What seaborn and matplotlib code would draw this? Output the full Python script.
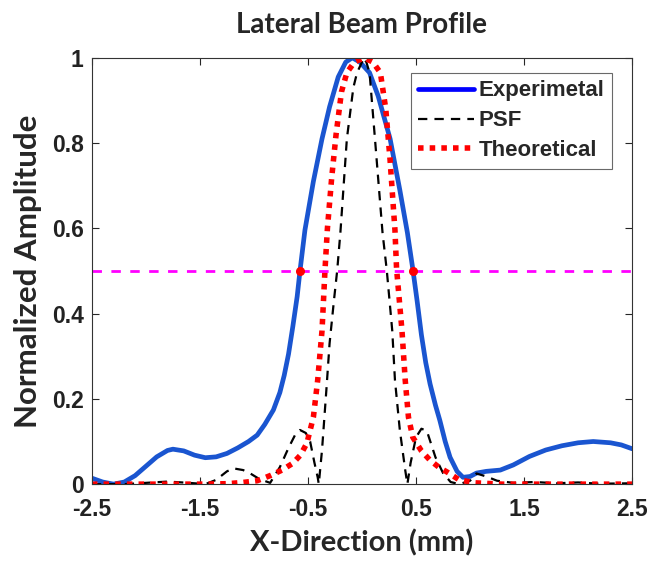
"""Lateral beam profile: experimental vs PSF vs theoretical."""

import matplotlib
matplotlib.use("Agg")
import matplotlib.pyplot as plt
import pandas as pd
import seaborn as sns

# Experimental profile
exp_x = [-2.5, -2.4, -2.3, -2.2, -2.1, -2.0, -1.9, -1.8, -1.75, -1.65, -1.55, -1.45,
         -1.35, -1.25, -1.15, -1.05, -0.97, -0.90, -0.82, -0.76, -0.72, -0.68, -0.64,
         -0.60, -0.574, -0.528, -0.45, -0.37, -0.30, -0.22, -0.15, -0.09, -0.02, 0.07,
         0.15, 0.26, 0.35, 0.42, 0.47, 0.51, 0.55, 0.59, 0.63, 0.68, 0.72, 0.77, 0.815,
         0.88, 0.935, 1.0, 1.06, 1.15, 1.28, 1.4, 1.55, 1.7, 1.85, 2.0, 2.14, 2.3, 2.4,
         2.5]
exp_y = [0.014, 0.005, 0.0, 0.005, 0.02, 0.042, 0.064, 0.079, 0.082, 0.078, 0.068, 0.062,
         0.064, 0.072, 0.085, 0.10, 0.115, 0.14, 0.174, 0.215, 0.255, 0.305, 0.37,
         0.44, 0.5, 0.596, 0.71, 0.81, 0.885, 0.955, 0.99, 1.0, 0.99, 0.965,
         0.91, 0.81, 0.69, 0.59, 0.505, 0.43, 0.35, 0.285, 0.235, 0.185, 0.15, 0.10, 0.063,
         0.03, 0.016, 0.018, 0.026, 0.03, 0.033, 0.045, 0.065, 0.08, 0.09, 0.097, 0.10,
         0.097, 0.092, 0.083]

# Point spread function
psf_x = [-2.5, -2.2, -2.0, -1.8, -1.6, -1.45, -1.35, -1.25, -1.19, -1.1, -1.04, -0.95,
         -0.85, -0.76, -0.68, -0.62, -0.574, -0.52, -0.48, -0.44, -0.41, -0.40, -0.37,
         -0.33, -0.30, -0.26, -0.23, -0.20, -0.14, -0.08, -0.046, 0.0, 0.01, 0.04, 0.07,
         0.12, 0.19, 0.23, 0.28, 0.305, 0.35, 0.40, 0.42, 0.45, 0.50, 0.55, 0.60, 0.68,
         0.75, 0.82, 0.90, 1.0, 1.06, 1.15, 1.25, 1.4, 1.6, 1.8, 2.0, 2.2, 2.5]
psf_y = [0.0, 0.0, 0.003, 0.006, 0.003, 0.0, 0.01, 0.03, 0.037, 0.033, 0.026, 0.012,
         0.003, 0.04, 0.085, 0.115, 0.127, 0.12, 0.10, 0.05, 0.016, 0.0, 0.08,
         0.22, 0.33, 0.43, 0.5, 0.59, 0.81, 0.93, 0.965, 0.99, 1.0, 0.99, 0.965,
         0.81, 0.59, 0.5, 0.36, 0.244, 0.127, 0.033, 0.0, 0.05, 0.11, 0.13, 0.125, 0.063,
         0.026, 0.005, 0.0, 0.008, 0.025, 0.018, 0.008, 0.003, 0.005, 0.002, 0.004, 0.001,
         0.002]

# Theoretical profile
th_x = [-2.5, -1.5, -1.25, -1.1, -0.97, -0.85, -0.74, -0.64, -0.57, -0.51, -0.45, -0.41,
        -0.37, -0.343, -0.32, -0.28, -0.24, -0.19, -0.14, -0.07, 0.02, 0.10, 0.17, 0.22,
        0.26, 0.29, 0.305, 0.32, 0.37, 0.40, 0.43, 0.47, 0.55, 0.63, 0.71, 0.79, 0.9,
        1.05, 1.3, 2.5]
th_y = [0.0, 0.0, 0.001, 0.004, 0.008, 0.02, 0.033, 0.049, 0.068, 0.096, 0.157, 0.244,
        0.36, 0.5, 0.6, 0.72, 0.82, 0.92, 0.965, 0.99, 1.0, 0.99, 0.965, 0.88,
        0.76, 0.65, 0.596, 0.505, 0.36, 0.244, 0.157, 0.11, 0.078, 0.056, 0.04, 0.028, 0.01,
        0.003, 0.0, 0.0]

half_level = 0.5
fwhm_x = [-0.574, 0.47]

x_ticks = [-2.5, -1.5, -0.5, 0.5, 1.5, 2.5]
y_ticks = [0, 0.2, 0.4, 0.6, 0.8, 1]
y_tick_labels = ["0", "0.2", "0.4", "0.6", "0.8", "1"]

sns.set_theme(style="ticks")
plt.rcParams["font.family"] = ["Liberation Sans", "DejaVu Sans"]

exp_df = pd.DataFrame({"x": exp_x, "y": exp_y})
psf_df = pd.DataFrame({"x": psf_x, "y": psf_y})
th_df = pd.DataFrame({"x": th_x, "y": th_y})

fig, ax = plt.subplots(figsize=(6.47, 5.61), dpi=100)
fig.subplots_adjust(left=0.142, right=0.977, bottom=0.137, top=0.897)

sns.lineplot(data=exp_df, x="x", y="y", estimator=None, sort=False, ax=ax,
             color="#1a55d0", linewidth=3.4, label="Experimetal")
sns.lineplot(data=psf_df, x="x", y="y", estimator=None, sort=False, ax=ax,
             color="black", linewidth=1.6, label="PSF")
ax.lines[-1].set_linestyle((0, (4.2, 3.2)))
sns.lineplot(data=th_df, x="x", y="y", estimator=None, sort=False, ax=ax,
             color="#ff0000", linewidth=4.0, label="Theoretical")
ax.lines[-1].set_linestyle((0, (1, 1.1)))

ax.axhline(half_level, color="#ff00ff", linewidth=2.0, linestyle=(0, (3.4, 3.4)))
ax.plot(fwhm_x, [half_level] * len(fwhm_x), "o", color="#ff0000", markersize=5.5,
        zorder=5)

ax.set_xlim(-2.5, 2.5)
ax.set_ylim(0, 1)
ax.set_xticks(x_ticks)
ax.set_xticklabels([f"{t:g}" for t in x_ticks])
ax.set_yticks(y_ticks)
ax.set_yticklabels(y_tick_labels)
ax.tick_params(direction="in", top=True, right=True, length=5, width=0.8,
               labelsize=16.5)
ax.tick_params(axis="x", pad=10)
ax.tick_params(axis="y", pad=6)
for lab in ax.get_xticklabels() + ax.get_yticklabels():
    lab.set_fontweight("bold")
    lab.set_color("#222222")
for sp in ax.spines.values():
    sp.set_visible(True)
    sp.set_linewidth(0.8)
    sp.set_color("#333333")

ax.set_title("Lateral Beam Profile", fontsize=20, fontweight="bold",
             family=["Lato", "DejaVu Sans"], pad=18)
ax.set_xlabel("X-Direction (mm)", fontsize=21, fontweight="bold",
              family=["Lato", "DejaVu Sans"], labelpad=6)
ax.set_ylabel("Normalized Amplitude", fontsize=22.5, fontweight="bold",
              family=["Lato", "DejaVu Sans"], labelpad=7)

leg = ax.legend(loc="upper right", bbox_to_anchor=(0.963, 0.965), fontsize=16,
                frameon=True, fancybox=False, handlelength=2.5, handletextpad=0.2,
                borderpad=0.35, labelspacing=0.4, borderaxespad=0)
leg.get_frame().set_edgecolor("#444444")
leg.get_frame().set_linewidth(0.8)
for t in leg.get_texts():
    t.set_fontweight("bold")
leg.get_lines()[0].set_color("#0000ff")

fig.savefig("out.png", dpi=100)
